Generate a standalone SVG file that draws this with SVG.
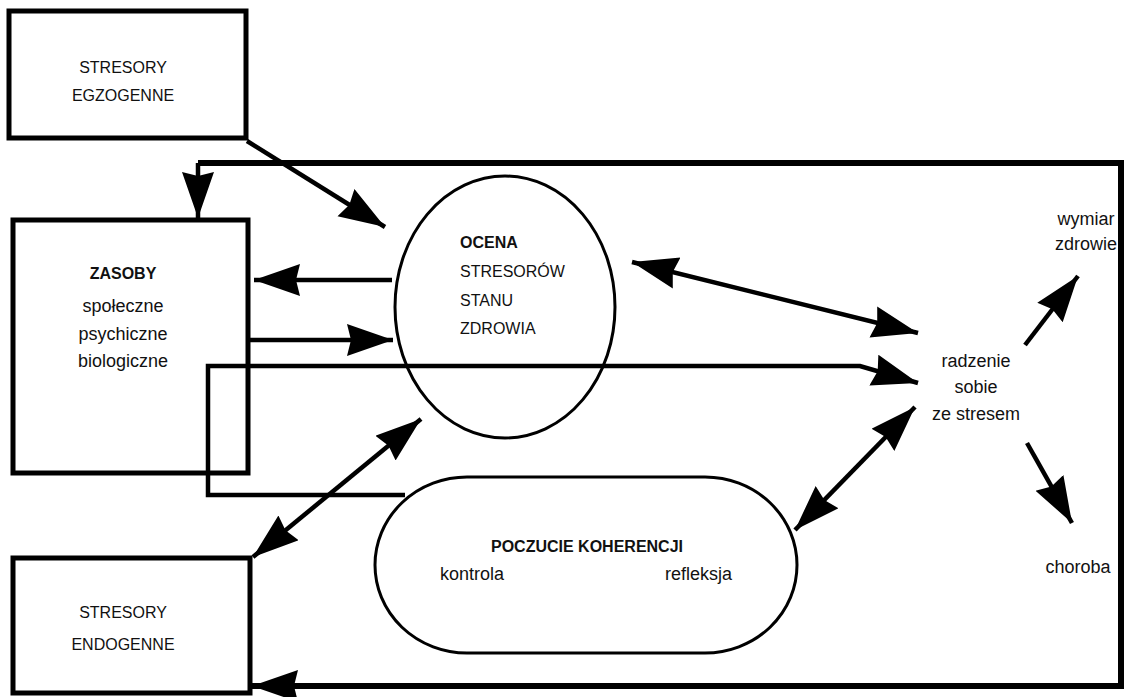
<svg xmlns="http://www.w3.org/2000/svg" width="1127" height="697" viewBox="0 0 1127 697">
<style>
.box{fill:none;stroke:#000;stroke-width:5}
.shape{fill:#fff;stroke:#000;stroke-width:3}
.ln{fill:none;stroke:#000;stroke-width:4.5}
.frame{fill:none;stroke:#000;stroke-width:6}
.up{font-family:"Liberation Sans",Arial,sans-serif;font-size:16px;fill:#111}
.lo{font-family:"Liberation Sans",Arial,sans-serif;font-size:18px;fill:#111}
.b{font-weight:bold}
</style>
<defs>
<marker id="ah" markerUnits="userSpaceOnUse" markerWidth="50" markerHeight="34" refX="46" refY="16" orient="auto-start-reverse" viewBox="0 0 50 34">
<path d="M0,0 L46,16 L0,32 L4,16 z" fill="#000"/>
</marker>
</defs>
<rect width="1127" height="697" fill="#fff"/>
<g id="koherencja">
<rect class="shape" x="375" y="477" width="422" height="176" rx="92" ry="88"/>
<text class="up b" x="587" y="552" text-anchor="middle">POCZUCIE KOHERENCJI</text>
<text class="lo" x="440" y="580">kontrola</text>
<text class="lo" x="732" y="580" text-anchor="end">refleksja</text>
</g>
<g id="connectors">
<path class="frame" d="M198,163 H1121 V686 H252" marker-end="url(#ah)"/>
<path class="ln" d="M198,163 V218" marker-end="url(#ah)"/>
<path class="ln" d="M405,495 H208 V366 H860 L918,383" marker-end="url(#ah)"/>
</g>
<g id="zasoby">
<rect class="box" x="13" y="220" width="235" height="253"/>
<text class="up b" x="123" y="279" text-anchor="middle">ZASOBY</text>
<text class="lo" x="123" y="312" text-anchor="middle">społeczne</text>
<text class="lo" x="123" y="340" text-anchor="middle">psychiczne</text>
<text class="lo" x="123" y="367" text-anchor="middle">biologiczne</text>
</g>
<g id="egzogenne">
<rect class="box" x="9" y="11" width="237" height="127"/>
<text class="up" x="123" y="73" text-anchor="middle">STRESORY</text>
<text class="up" x="123" y="101" text-anchor="middle">EGZOGENNE</text>
</g>
<g id="endogenne">
<rect class="box" x="13" y="558" width="237" height="135"/>
<text class="up" x="123" y="618" text-anchor="middle">STRESORY</text>
<text class="up" x="123" y="650" text-anchor="middle">ENDOGENNE</text>
</g>
<g id="ocena">
<ellipse cx="505" cy="307" rx="110" ry="131" fill="none" stroke="#000" stroke-width="3"/>
<text class="up b" x="460" y="248">OCENA</text>
<text class="up" x="460" y="277">STRESORÓW</text>
<text class="up" x="460" y="306">STANU</text>
<text class="up" x="460" y="334">ZDROWIA</text>
</g>
<g id="radzenie">
<text class="lo" x="976" y="367" text-anchor="middle">radzenie</text>
<text class="lo" x="976" y="393" text-anchor="middle">sobie</text>
<text class="lo" x="976" y="420" text-anchor="middle">ze stresem</text>
</g>
<g id="zdrowie">
<text class="lo" x="1086" y="225" text-anchor="middle">wymiar</text>
<text class="lo" x="1086" y="250" text-anchor="middle">zdrowie</text>
</g>
<g id="choroba">
<text class="lo" x="1078" y="573" text-anchor="middle">choroba</text>
</g>
<g id="arrows">
<path class="ln" d="M247,141 L385,227" marker-end="url(#ah)"/>
<path class="ln" d="M392,280 L254,280" marker-end="url(#ah)"/>
<path class="ln" d="M248,340 L393,340" marker-end="url(#ah)"/>
<path class="ln" d="M632,262 L918,333" marker-start="url(#ah)" marker-end="url(#ah)"/>
<path class="ln" d="M795,530 L915,407" marker-start="url(#ah)" marker-end="url(#ah)"/>
<path class="ln" d="M253,557 L421,419" marker-start="url(#ah)" marker-end="url(#ah)"/>
<path class="ln" d="M1025,345 L1078,276" marker-end="url(#ah)"/>
<path class="ln" d="M1027,443 L1072,523" marker-end="url(#ah)"/>
</g>
</svg>
